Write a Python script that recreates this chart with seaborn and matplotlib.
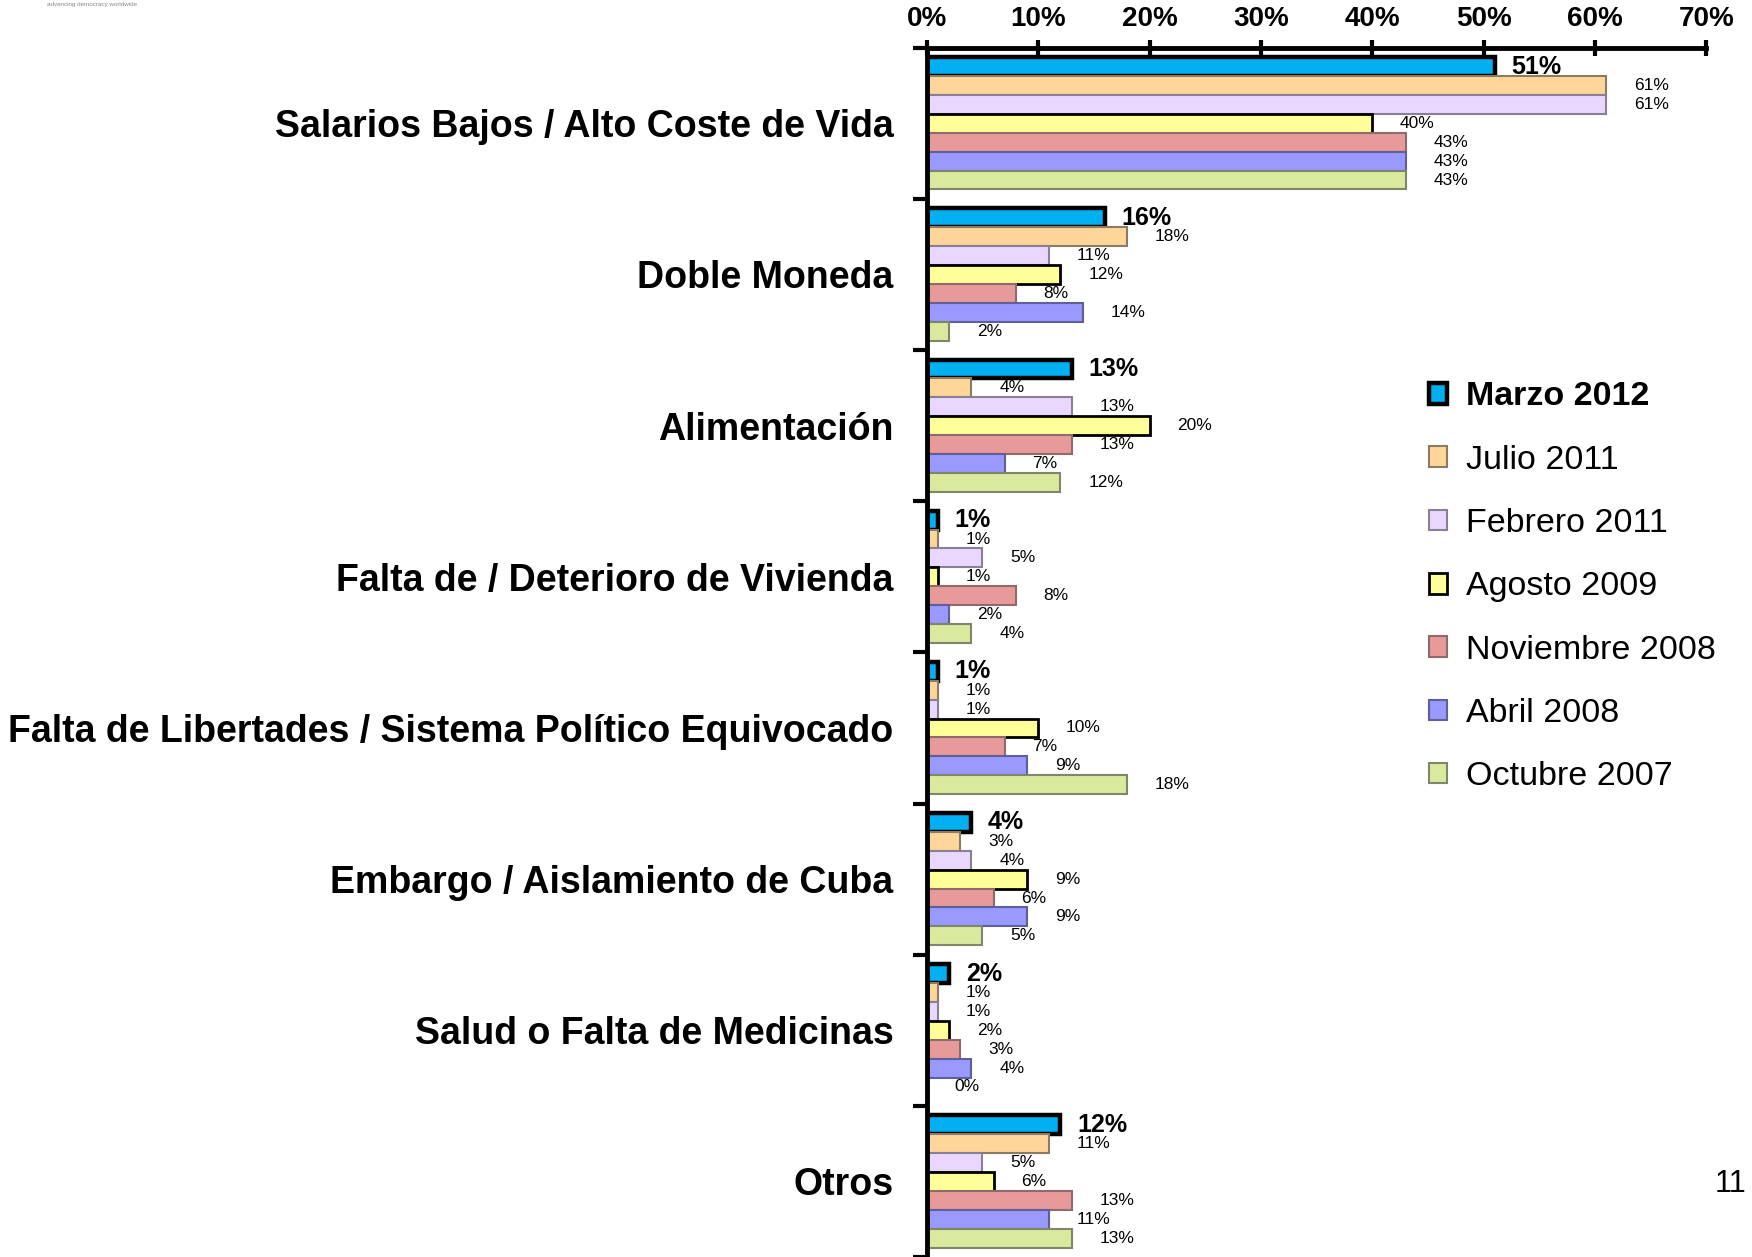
import pandas as pd
import seaborn as sns
import matplotlib.pyplot as plt
from matplotlib.ticker import FixedLocator

# data
categories = [
    "Salarios Bajos / Alto Coste de Vida",
    "Doble Moneda",
    "Alimentación",
    "Falta de / Deterioro de Vivienda",
    "Falta de Libertades / Sistema Político Equivocado",
    "Embargo / Aislamiento de Cuba",
    "Salud o Falta de Medicinas",
    "Otros",
]
surveys = ["Marzo 2012", "Julio 2011", "Febrero 2011", "Agosto 2009",
           "Noviembre 2008", "Abril 2008", "Octubre 2007"]

marzo_2012 = [51, 16, 13, 1, 1, 4, 2, 12]
julio_2011 = [61, 18, 4, 1, 1, 3, 1, 11]
febrero_2011 = [61, 11, 13, 5, 1, 4, 1, 5]
agosto_2009 = [40, 12, 20, 1, 10, 9, 2, 6]
noviembre_2008 = [43, 8, 13, 8, 7, 6, 3, 13]
abril_2008 = [43, 14, 7, 2, 9, 9, 4, 11]
octubre_2007 = [43, 2, 12, 4, 18, 5, 0, 13]

x_ticks = [0, 10, 20, 30, 40, 50, 60, 70]

series = [marzo_2012, julio_2011, febrero_2011, agosto_2009,
          noviembre_2008, abril_2008, octubre_2007]

colors = ["#00B0F0", "#FFD699", "#EAD7FF", "#FFFF99", "#E89A9A", "#9999FF", "#D9E99D"]
edges = ["black", "#8a7a66", "#8a8095", "black", "#8d6b6b", "#5f5f9a", "#7f866a"]
lws = [3.2, 1.5, 1.5, 2.0, 1.5, 1.5, 1.5]

rows = []
for s, vals in zip(surveys, series):
    for c, v in zip(categories, vals):
        rows.append({"categoria": c, "encuesta": s, "valor": v})
df = pd.DataFrame(rows)

sns.set_style("white")
plt.rcParams["font.family"] = ["Liberation Sans", "DejaVu Sans"]
plt.rcParams["text.color"] = "black"
plt.rcParams["xtick.color"] = "black"
plt.rcParams["ytick.color"] = "black"
plt.rcParams["axes.labelcolor"] = "black"

fig = plt.figure(figsize=(17.52, 12.57), dpi=100)
ax = fig.add_axes([0.529, 0.0, 0.445, 0.962])

sns.barplot(data=df, y="categoria", x="valor", hue="encuesta", orient="h",
            order=categories, hue_order=surveys, palette=colors,
            saturation=1, width=0.875, ax=ax, legend=False)

for i, cont in enumerate(ax.containers):
    for p in cont:
        p.set_edgecolor(edges[i])
        p.set_linewidth(lws[i])
    labs = [f"{v}%" for v in series[i]]
    if i == 0:
        ax.bar_label(cont, labels=labs, padding=12, fontsize=18,
                     fontweight="bold", color="black")
    else:
        ax.bar_label(cont, labels=labs, padding=20, fontsize=12.5, color="black")

ax.set_xlim(0, 70)
ax.set_ylim(len(categories) - 0.5, -0.5)
ax.xaxis.tick_top()
ax.set_xticks(x_ticks)
ax.set_xticklabels([f"{t}%" for t in x_ticks], fontsize=20, fontweight="bold")
ax.tick_params(axis="x", direction="inout", length=12, width=3, pad=5, top=True)
ax.set_yticks(range(len(categories)))
ax.set_yticklabels(categories, fontsize=27, fontweight="bold")
ax.tick_params(axis="y", which="major", length=0, pad=24)
ax.yaxis.set_minor_locator(FixedLocator([k - 0.5 for k in range(len(categories) + 1)]))
ax.tick_params(axis="y", which="minor", direction="out", length=10, width=3, left=True)
ax.set_xlabel("")
ax.set_ylabel("")

for side in ["right", "bottom"]:
    ax.spines[side].set_visible(False)
for side in ["top", "left"]:
    ax.spines[side].set_linewidth(3.5)
    ax.spines[side].set_color("black")

handles = [cont.patches[0] for cont in ax.containers]
leg = fig.legend(handles, surveys, loc="upper left", bbox_to_anchor=(0.798, 0.721),
                 frameon=False, fontsize=24.5, handlelength=0.55, handleheight=0.55,
                 handletextpad=0.55, labelspacing=0.95)
leg.get_texts()[0].set_fontweight("bold")

fig.text(0.027, 0.9985, "advancing democracy worldwide", fontsize=4.5,
         color="#888888", ha="left", va="top")
fig.text(0.997, 0.058, "11", fontsize=22, ha="right", va="center")

fig.savefig("out.png", dpi=100)
